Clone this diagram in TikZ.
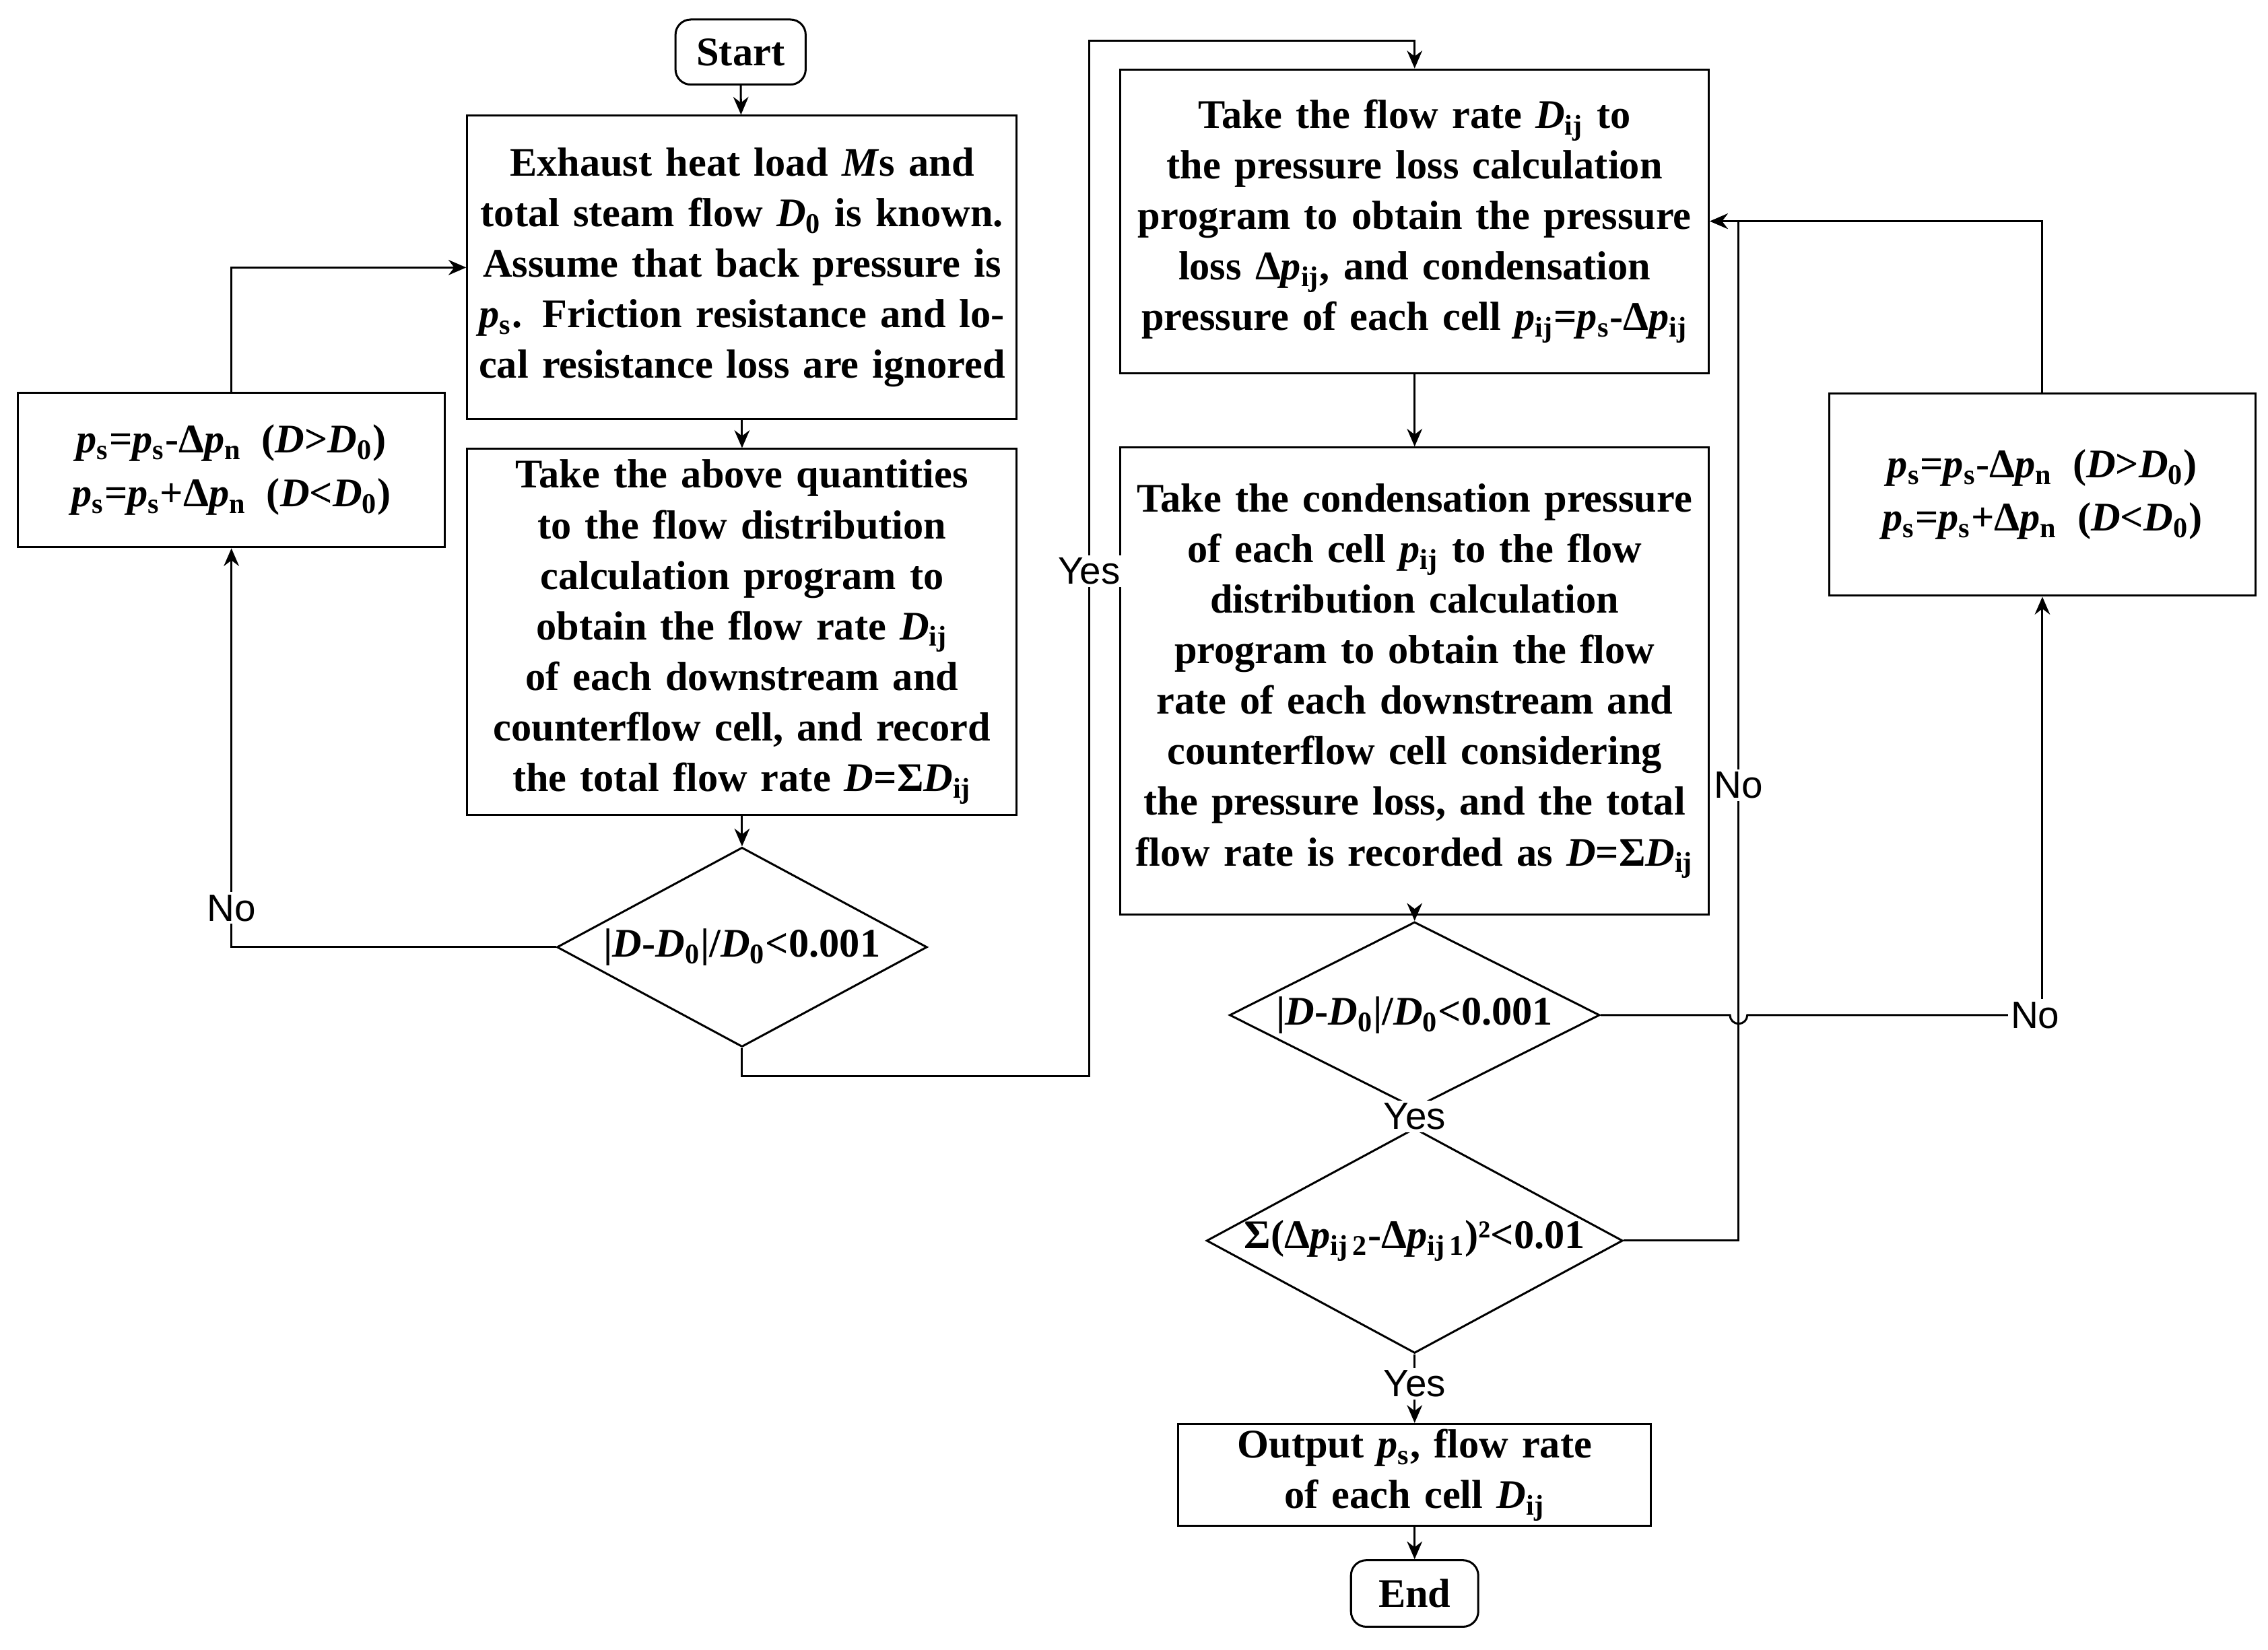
\documentclass[tikz,border=0pt]{standalone}
\usepackage{fontspec}
\setmainfont{Liberation Serif}
\newfontfamily\lab{Liberation Sans}
\usetikzlibrary{shapes.geometric,arrows.meta}
\newcommand{\vr}[2]{\textit{#1}\textsubscript{#2}}
\begin{document}
\begin{tikzpicture}[x=0.02cm,y=-0.02cm,
  box/.style={draw,thick,align=center,font=\bfseries\fontsize{16}{19.9}\selectfont,inner sep=2pt},
  term/.style={box,rounded corners=6pt,minimum width=1.8cm,minimum height=0.9cm},
  dia/.style={draw,thick,diamond,aspect=1.85,inner sep=0pt,font=\bfseries\fontsize{16}{19.9}\selectfont},
  lb/.style={font=\lab\fontsize{15}{18}\selectfont,fill=white,inner sep=1pt},
  ar/.style={thick,-{Stealth[length=7pt,width=6pt]}},
  ln/.style={thick}]
\useasboundingbox (0,0) rectangle (1568,1141);
\node[term] (start) at (512,36) {Start};
\node[box,minimum width=7.6cm,minimum height=4.2cm,text width=7.3cm] (b1) at (513,185)
 {Exhaust heat load \textit{M}s and total steam flow \vr{D}{0} is known. Assume that back pressure is \vr{p}{s}. Friction resistance and local resistance loss are ignored};
\node[box,minimum width=7.6cm,minimum height=5.06cm,text width=7.4cm] (b2) at (513,437)
 {Take the above quantities to the flow distribution calculation program to obtain the flow rate \vr{D}{ij} of each downstream and counterflow cell, and record the total flow rate \textit{D}=Σ\vr{D}{ij}};
\node[dia,minimum width=5.12cm,minimum height=2.76cm] (d1) at (513,655) {|\textit{D}-\vr{D}{0}|/\vr{D}{0}<0.001};
\node[box,minimum width=5.9cm,minimum height=2.14cm,text width=5.7cm,font=\bfseries\fontsize{16}{21}\selectfont] (lbx) at (160,325)
 {\vr{p}{s}=\vr{p}{s}-Δ\vr{p}{n} \,(\textit{D}>\vr{D}{0})\\ \vr{p}{s}=\vr{p}{s}+Δ\vr{p}{n} \,(\textit{D}<\vr{D}{0})};
\node[box,minimum width=8.14cm,minimum height=4.2cm,text width=7.9cm] (b3) at (978,153)
 {Take the flow rate \vr{D}{ij} to the pressure loss calculation program to obtain the pressure loss Δ\vr{p}{ij}, and condensation pressure of each cell \vr{p}{ij}=\vr{p}{s}-Δ\vr{p}{ij}};
\node[box,minimum width=8.14cm,minimum height=6.46cm,text width=7.9cm] (b4) at (978,471)
 {Take the condensation pressure of each cell \vr{p}{ij} to the flow distribution calculation program to obtain the flow rate of each downstream and counterflow cell considering the pressure loss, and the total flow rate is recorded as \textit{D}=Σ\vr{D}{ij}};
\node[dia,minimum width=5.12cm,minimum height=2.08cm] (d2) at (978,702) {|\textit{D}-\vr{D}{0}|/\vr{D}{0}<0.001};
\node[dia,minimum width=5.12cm,minimum height=2.72cm] (d3) at (978,858) {Σ(Δ\vr{p}{ij\,2}-Δ\vr{p}{ij\,1})²<0.01};
\node[box,minimum width=5.9cm,minimum height=2.8cm,text width=5.7cm,font=\bfseries\fontsize{16}{21}\selectfont] (rbx) at (1412,342)
 {\vr{p}{s}=\vr{p}{s}-Δ\vr{p}{n} \,(\textit{D}>\vr{D}{0})\\ \vr{p}{s}=\vr{p}{s}+Δ\vr{p}{n} \,(\textit{D}<\vr{D}{0})};
\node[box,minimum width=6.54cm,minimum height=1.3cm,text width=6.3cm] (out) at (978,1020)
 {Output \vr{p}{s}, flow rate of each cell \vr{D}{ij}};
\node[term,minimum width=1.76cm,minimum height=0.92cm] (end) at (978,1102) {End};
\coordinate (c1) at (160,655); \coordinate (c2) at (160,185);
\coordinate (c3) at (513,744); \coordinate (c4) at (753,744);
\coordinate (c5) at (753,28); \coordinate (c6) at (978,28);
\coordinate (c7) at (1412,702); \coordinate (c8) at (1412,153);
\coordinate (c9) at (1202,858); \coordinate (c10) at (1202,153);
\draw[ar] (start) -- (b1);
\draw[ar] (b1) -- (b2);
\draw[ar] (b2) -- (d1);
\draw[ar] (d1.west) -- (c1) -- (lbx.south);
\draw[ar] (lbx.north) -- (c2) -- (b1.west);
\draw[ar] (d1.south) -- (c3) -- (c4) -- (c5) -- (c6) -- (b3.north);
\draw[ar] (b3) -- (b4);
\draw[ar] (b4) -- (d2);
\draw[ar] (d2) -- (d3);
\draw[ar] (d3) -- (out);
\draw[ar] (out) -- (end);
\draw[ln] (d2.east) -- (1196,702) arc[start angle=180,end angle=0,radius=6] -- (c7);
\draw[ar] (c7) -- (rbx.south);
\draw[ar] (rbx.north) -- (c8) -- (b3.east);
\draw[ar] (d3.east) -- (c9) -- (c10) -- (b3.east);
\node[lb] at (160,628) {No};
\node[lb] at (753,395) {Yes};
\node[lb] at (1202,543) {No};
\node[lb] at (1407,702) {No};
\node[lb] at (978,772) {Yes};
\node[lb] at (978,957) {Yes};
\end{tikzpicture}
\end{document}
